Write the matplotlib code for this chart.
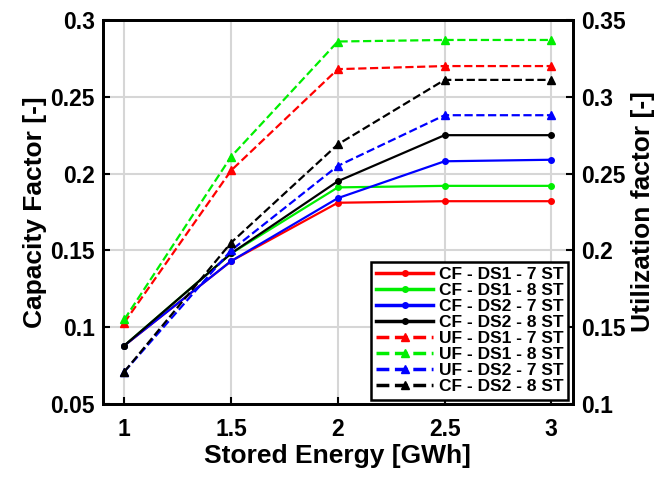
import matplotlib.pyplot as plt

plt.rcParams['font.family'] = ['Liberation Sans', 'DejaVu Sans']
plt.rcParams['font.weight'] = 'bold'

# stored energy levels
energy = [1, 1.5, 2, 2.5, 3]

# capacity factor (left axis)
cf_ds1_7 = [0.088, 0.143, 0.181, 0.182, 0.182]
cf_ds1_8 = [0.088, 0.148, 0.191, 0.192, 0.192]
cf_ds2_7 = [0.088, 0.143, 0.184, 0.208, 0.209]
cf_ds2_8 = [0.088, 0.148, 0.195, 0.225, 0.225]

# utilization factor (right axis)
uf_ds1_7 = [0.153, 0.252, 0.318, 0.320, 0.320]
uf_ds1_8 = [0.155, 0.261, 0.336, 0.337, 0.337]
uf_ds2_7 = [0.121, 0.200, 0.255, 0.288, 0.288]
uf_ds2_8 = [0.121, 0.205, 0.269, 0.311, 0.311]

fig = plt.figure(figsize=(6.71, 4.82), dpi=100)
ax = fig.add_axes([0.1535, 0.162, 0.700, 0.7965])
ax2 = ax.twinx()

lw = 1.6
h = []
h += ax.plot(energy, cf_ds1_7, '-o', color='red', lw=lw, ms=4, label='CF - DS1 - 7 ST')
h += ax.plot(energy, cf_ds1_8, '-o', color='#00ee00', lw=lw, ms=4, label='CF - DS1 - 8 ST')
h += ax.plot(energy, cf_ds2_7, '-o', color='blue', lw=lw, ms=4, label='CF - DS2 - 7 ST')
h += ax.plot(energy, cf_ds2_8, '-o', color='black', lw=lw, ms=4, label='CF - DS2 - 8 ST')
h += ax2.plot(energy, uf_ds1_7, '--^', color='red', lw=lw, ms=6, label='UF - DS1 - 7 ST')
h += ax2.plot(energy, uf_ds1_8, '--^', color='#00ee00', lw=lw, ms=6, label='UF - DS1 - 8 ST')
h += ax2.plot(energy, uf_ds2_7, '--^', color='blue', lw=lw, ms=6, label='UF - DS2 - 7 ST')
h += ax2.plot(energy, uf_ds2_8, '--^', color='black', lw=lw, ms=6, label='CF - DS2 - 8 ST')

ax.set_xlim(0.9, 3.1)
ax.set_ylim(0.05, 0.3)
ax2.set_ylim(0.1, 0.35)
ax.set_xticks([1, 1.5, 2, 2.5, 3])
ax.set_xticklabels(['1', '1.5', '2', '2.5', '3'])
ax.set_yticks([0.05, 0.1, 0.15, 0.2, 0.25, 0.3])
ax.set_yticklabels(['0.05', '0.1', '0.15', '0.2', '0.25', '0.3'])
ax2.set_yticks([0.1, 0.15, 0.2, 0.25, 0.3, 0.35])
ax2.set_yticklabels(['0.1', '0.15', '0.2', '0.25', '0.3', '0.35'])

ax.grid(True, color='#d6d6d6', lw=1.5)
ax.set_axisbelow(True)

for a in (ax, ax2):
    for s in a.spines.values():
        s.set_linewidth(2)
        s.set_color('black')
    a.tick_params(direction='in', labelsize=16.5, width=1.5, length=5, top=False, pad=6)
ax.tick_params(axis='x', pad=10)

ax.set_xlabel('Stored Energy [GWh]', fontsize=19, fontweight='bold', labelpad=2)
ax.set_ylabel('Capacity Factor [-]', fontsize=19, fontweight='bold', labelpad=2)
ax2.set_ylabel('Utilization factor [-]', fontsize=19, fontweight='bold', labelpad=4)

leg = ax2.legend(handles=h, loc='lower right', fontsize=12.5, fancybox=False,
                 framealpha=1, edgecolor='black', borderaxespad=0.25,
                 handlelength=3.3, handletextpad=0.3, labelspacing=0.05,
                 borderpad=0.3)
leg.get_frame().set_linewidth(1.8)
for line in leg.get_lines():
    line.set_linewidth(2.5)

fig.savefig('out.png', dpi=100)
